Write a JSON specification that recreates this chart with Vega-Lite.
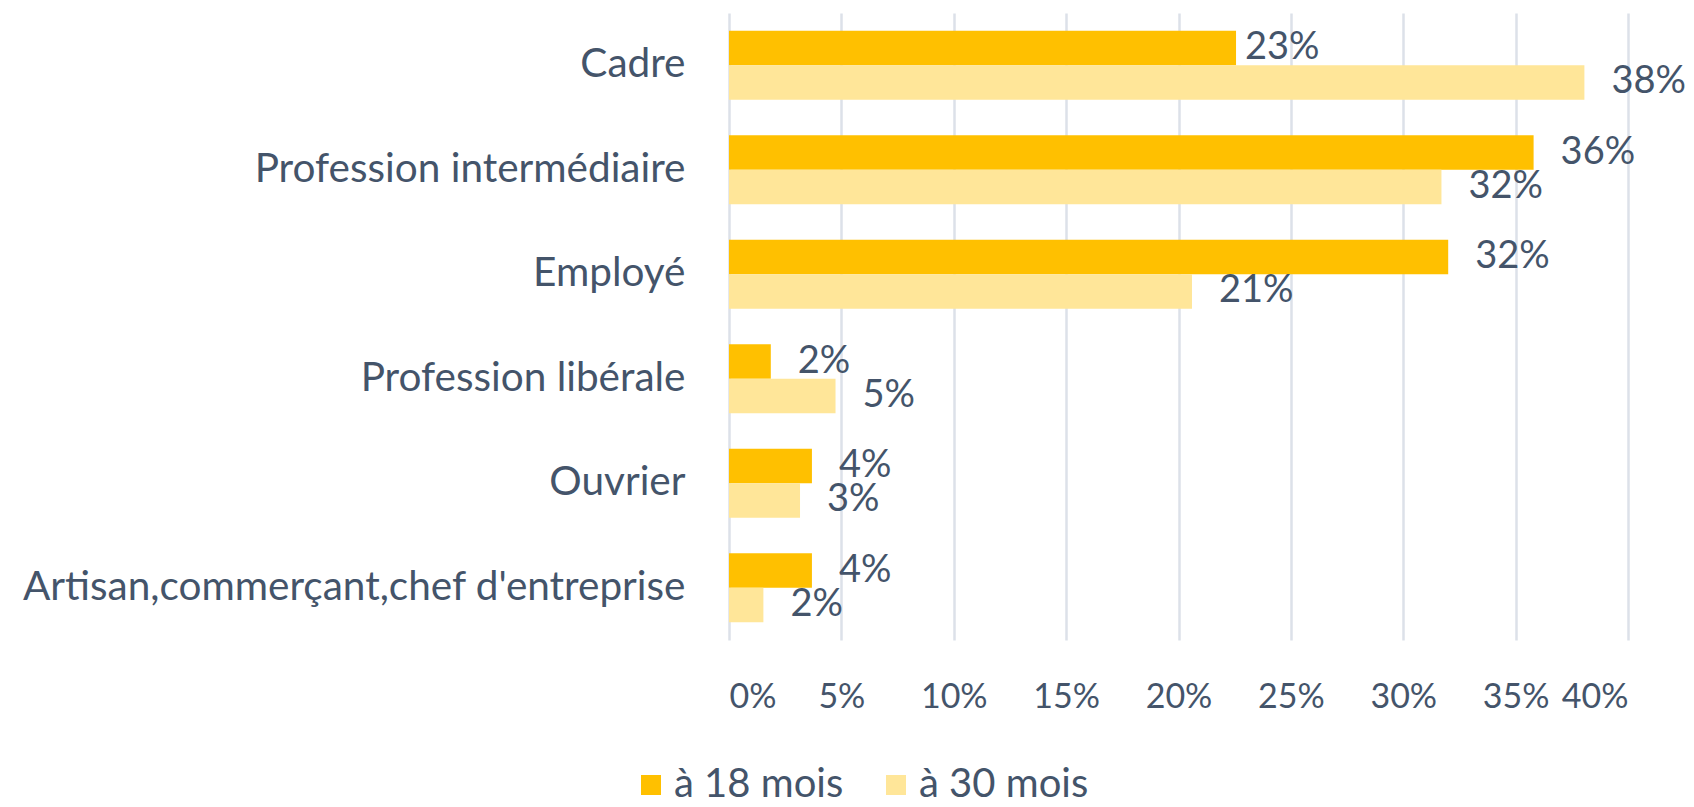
{
  "$schema": "https://vega.github.io/schema/vega-lite/v6.json",
  "width": 899,
  "height": 627,
  "autosize": {"type": "none"},
  "padding": {"left": 729, "top": 13, "right": 66, "bottom": 167},
  "background": "white",
  "config": {
    "view": {"stroke": null},
    "font": "Lato",
    "text": {"font": "Lato"}
  },
  "data": {
    "values": [
      {"categorie": "Cadre", "periode": "à 18 mois", "valeur": 0.2256},
      {"categorie": "Cadre", "periode": "à 30 mois", "valeur": 0.3806},
      {"categorie": "Profession intermédiaire", "periode": "à 18 mois", "valeur": 0.358},
      {"categorie": "Profession intermédiaire", "periode": "à 30 mois", "valeur": 0.317},
      {"categorie": "Employé", "periode": "à 18 mois", "valeur": 0.32},
      {"categorie": "Employé", "periode": "à 30 mois", "valeur": 0.206},
      {"categorie": "Profession libérale", "periode": "à 18 mois", "valeur": 0.0186},
      {"categorie": "Profession libérale", "periode": "à 30 mois", "valeur": 0.0474},
      {"categorie": "Ouvrier", "periode": "à 18 mois", "valeur": 0.0369},
      {"categorie": "Ouvrier", "periode": "à 30 mois", "valeur": 0.0316},
      {"categorie": "Artisan,commerçant,chef d'entreprise", "periode": "à 18 mois", "valeur": 0.0369},
      {"categorie": "Artisan,commerçant,chef d'entreprise", "periode": "à 30 mois", "valeur": 0.0153}
    ]
  },
  "encoding": {
    "y": {
      "field": "categorie",
      "type": "nominal",
      "sort": ["Cadre", "Profession intermédiaire", "Employé", "Profession libérale", "Ouvrier", "Artisan,commerçant,chef d'entreprise"],
      "scale": {"paddingInner": 0.34, "paddingOuter": 0.17},
      "axis": {
        "title": null,
        "domain": false,
        "ticks": false,
        "tickSize": 0,
        "labelPadding": 44,
        "labelFontSize": 40.5,
        "labelFont": "Lato",
        "labelColor": "#44546A",
        "labelLimit": 800
      }
    },
    "yOffset": {"field": "periode", "type": "nominal", "sort": ["à 18 mois", "à 30 mois"]},
    "x": {
      "field": "valeur",
      "type": "quantitative",
      "scale": {"domain": [0, 0.4], "nice": false},
      "axis": {
        "title": null,
        "values": [0, 0.05, 0.1, 0.15, 0.2, 0.25, 0.3, 0.35, 0.4],
        "format": ".0%",
        "domain": false,
        "ticks": false,
        "tickSize": 0,
        "labelPadding": 40,
        "labelFontSize": 34,
        "labelFont": "Lato",
        "labelColor": "#44546A",
        "labelBaseline": "top",
        "labelOverlap": false,
        "grid": true,
        "gridColor": "#DCE1E9",
        "gridWidth": 2.5
      }
    }
  },
  "layer": [
    {
      "mark": {"type": "bar"},
      "encoding": {
        "color": {
          "field": "periode",
          "type": "nominal",
          "scale": {"domain": ["à 18 mois", "à 30 mois"], "range": ["#FFC000", "#FFE699"]},
          "legend": {
            "title": null,
            "orient": "none",
            "direction": "horizontal",
            "legendX": -98,
            "legendY": 752,
            "symbolType": "square",
            "symbolSize": 400,
            "symbolStrokeWidth": 0,
            "symbolOpacity": 1,
            "labelFontSize": 40,
            "labelFont": "Lato",
            "labelColor": "#44546A",
            "labelOffset": 3,
            "labelLimit": 400,
            "columnPadding": 32
          }
        }
      }
    },
    {
      "transform": [{"filter": "datum.categorie !== 'Cadre' || datum.periode !== 'à 18 mois'"}],
      "mark": {"type": "text", "align": "left", "baseline": "middle", "dx": 27, "fontSize": 38, "font": "Lato", "color": "#44546A"},
      "encoding": {"text": {"field": "valeur", "type": "quantitative", "format": ".0%"}}
    },
    {
      "transform": [{"filter": "datum.categorie === 'Cadre' && datum.periode === 'à 18 mois'"}],
      "mark": {"type": "text", "align": "left", "baseline": "middle", "dx": 9, "fontSize": 38, "font": "Lato", "color": "#44546A"},
      "encoding": {"text": {"field": "valeur", "type": "quantitative", "format": ".0%"}}
    }
  ]
}
